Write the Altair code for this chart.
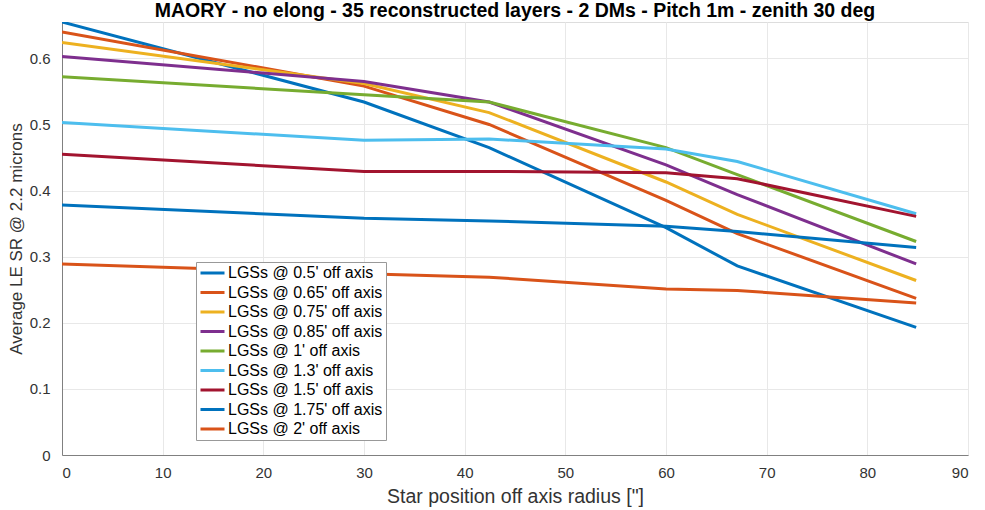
import altair as alt
import pandas as pd

x_vals = [0, 30, 42.43, 60, 67.08, 84.85]
labels = ["LGSs @ 0.5' off axis", "LGSs @ 0.65' off axis", "LGSs @ 0.75' off axis",
          "LGSs @ 0.85' off axis", "LGSs @ 1' off axis", "LGSs @ 1.3' off axis",
          "LGSs @ 1.5' off axis", "LGSs @ 1.75' off axis", "LGSs @ 2' off axis"]
colors = ["#0072BD", "#D95319", "#EDB120", "#7E2F8E", "#77AC30",
          "#4DBEEE", "#A2142F", "#0072BD", "#D95319"]
s_050 = [0.655, 0.534, 0.465, 0.344, 0.286, 0.193]
s_065 = [0.640, 0.558, 0.500, 0.385, 0.335, 0.237]
s_075 = [0.624, 0.562, 0.518, 0.413, 0.364, 0.264]
s_085 = [0.603, 0.565, 0.534, 0.439, 0.394, 0.289]
s_100 = [0.572, 0.545, 0.534, 0.465, 0.424, 0.323]
s_130 = [0.503, 0.476, 0.478, 0.463, 0.444, 0.365]
s_150 = [0.455, 0.429, 0.429, 0.427, 0.418, 0.361]
s_175 = [0.378, 0.358, 0.354, 0.346, 0.338, 0.314]
s_200 = [0.289, 0.274, 0.269, 0.251, 0.249, 0.230]
series = [s_050, s_065, s_075, s_085, s_100, s_130, s_150, s_175, s_200]

rows = []
for i, (lab, vals) in enumerate(zip(labels, series)):
    for x, y in zip(x_vals, vals):
        rows.append({"series": lab, "idx": i, "x": x, "y": y})
df = pd.DataFrame(rows)

font = "Liberation Sans"

chart = alt.Chart(df).mark_line(strokeWidth=3, clip=True).encode(
    x=alt.X("x:Q", scale=alt.Scale(domain=[0, 90], nice=False),
            axis=alt.Axis(values=list(range(0, 91, 10)), title="Star position off axis radius [\"]",
                          labelFont=font, labelFontSize=15, labelColor="#333333",
                          titleFont=font, titleFontSize=19.5, titleFontWeight="normal",
                          titleColor="#333333", titlePadding=7, labelPadding=10,
                          tickSize=0, domainColor="#808080", gridColor="#e8e8e8")),
    y=alt.Y("y:Q", scale=alt.Scale(domain=[0, 0.655], nice=False),
            axis=alt.Axis(values=[0, 0.1, 0.2, 0.3, 0.4, 0.5, 0.6], format=".1~f",
                          title="Average LE SR @ 2.2 microns",
                          labelFont=font, labelFontSize=15, labelColor="#333333",
                          titleFont=font, titleFontSize=17, titleFontWeight="normal",
                          titleColor="#333333", titlePadding=4, labelPadding=12,
                          tickSize=0, domainColor="#808080", gridColor="#e8e8e8")),
    color=alt.Color("series:N", scale=alt.Scale(domain=labels, range=colors),
                    sort=labels,
                    legend=alt.Legend(title=None, orient="none", legendX=134, legendY=240,
                                      symbolType="stroke", symbolSize=576,
                                      symbolStrokeWidth=3, labelFont=font,
                                      labelFontSize=16, labelColor="#000000",
                                      labelOffset=2, rowPadding=3.5, padding=3,
                                      clipHeight=16,
                                      strokeColor="#999999", fillColor="white")),
    detail="idx:N",
    order="x:Q",
).properties(
    width=906, height=433,
    title=alt.Title("MAORY - no elong - 35 reconstructed layers - 2 DMs - Pitch 1m - zenith 30 deg",
                    font=font, fontSize=19.5, fontWeight="bold", color="#000000", offset=1),
    autosize=alt.AutoSizeParams(type="none"),
    padding={"left": 62, "top": 22, "right": 17, "bottom": 55},
).configure_view(stroke="#808080", strokeWidth=1).configure(background="white")

chart.save("out.html", embed_options={"renderer": "svg", "actions": False})
